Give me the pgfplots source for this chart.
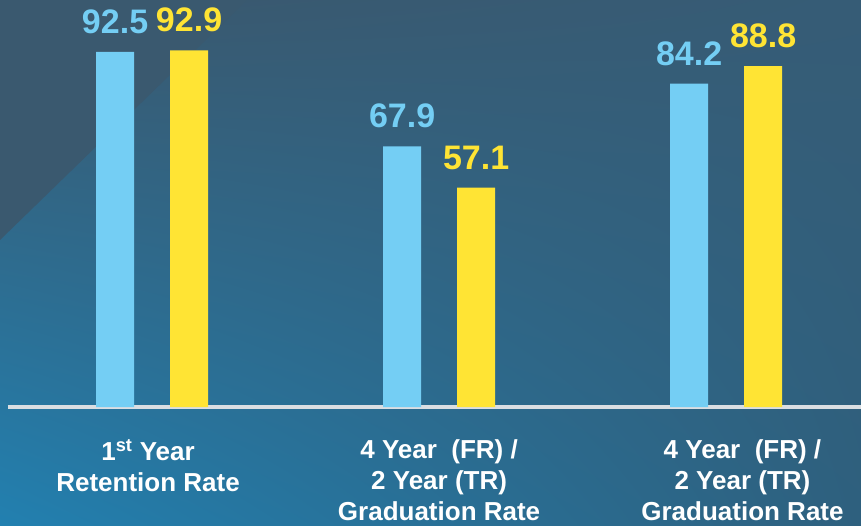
\documentclass[border=0pt]{standalone}
\usepackage{fontspec}
\setmainfont{Liberation Sans}
\usepackage{pgfplots}
\pgfplotsset{compat=1.18}
\usetikzlibrary{shadings}
\definecolor{barblue}{RGB}{116,206,244}
\definecolor{baryellow}{RGB}{255,228,52}
\definecolor{bgUL}{RGB}{58,88,110}
\definecolor{bgUR}{RGB}{54,92,118}
\definecolor{bgLL}{RGB}{34,128,176}
\definecolor{bgLR}{RGB}{46,96,126}
\definecolor{bgdark}{RGB}{58,89,111}
\definecolor{linegray}{RGB}{218,222,226}
\begin{document}
\begin{tikzpicture}
\useasboundingbox (0pt,0pt) rectangle (861pt,525pt);
\shade[upper left=bgUL, upper right=bgUR, lower left=bgLL, lower right=bgLR] (0pt,0pt) rectangle (861pt,525pt);
\fill[bgdark] (0pt,525pt) -- (247pt,525pt) -- (0pt,285pt) -- cycle;
\begin{axis}[
  at={(8pt,118pt)}, anchor=south west,
  scale only axis, width=853pt, height=384pt,
  xmin=-0.502, xmax=2.470, ymin=0, ymax=100,
  axis y line=none, axis x line=bottom,
  x axis line style={-, line width=3.5pt, color=linegray},
  ytick=\empty,
  xtick={-0.014,1,2.057}, major tick length=0pt,
  xticklabels={{1\textsuperscript{st} Year\\Retention Rate},{4 Year\ \ (FR) /\\2 Year (TR)\\Graduation Rate},{4 Year\ \ (FR) /\\2 Year (TR)\\Graduation Rate}},
  xticklabel style={align=center, font=\bfseries\fontsize{26}{31}\selectfont, text=white, anchor=north, inner sep=0pt, yshift=-32pt},
  ybar, bar width=38pt,
  clip=false,
  nodes near coords,
  every node near coord/.append style={font=\bfseries\fontsize{34}{34}\selectfont, inner sep=0pt, yshift=18pt, anchor=south},
  /pgf/number format/.cd, fixed, fixed zerofill, precision=1, assume math mode=true,
]
\addplot[draw=none, fill=barblue, bar shift=-37pt, every node near coord/.append style={text=barblue}] coordinates {(0,92.5) (1,67.9) (2,84.2)};
\addplot[draw=none, fill=baryellow, bar shift=37pt, every node near coord/.append style={text=baryellow}] coordinates {(0,92.9) (1,57.1) (2,88.8)};
\end{axis}
\end{tikzpicture}
\end{document}
